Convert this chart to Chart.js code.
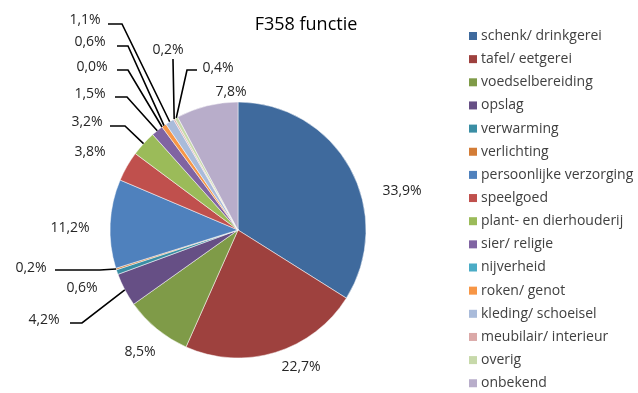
<!DOCTYPE html>
<html lang="nl">
<head>
    <meta charset="UTF-8">
    <title>F358 functie</title>
    <script src="https://cdn.jsdelivr.net/npm/chart.js"></script>
    <style>
        html, body { margin: 0; padding: 0; background: #fff; }
        #wrap { width: 638px; height: 393px; }
    </style>
</head>
<body>
<div id="wrap"><canvas id="pieChart"></canvas></div>

<script>
    // Data
    const title = 'F358 functie';
    const categories = [
        'schenk/ drinkgerei', 'tafel/ eetgerei', 'voedselbereiding', 'opslag',
        'verwarming', 'verlichting', 'persoonlijke verzorging', 'speelgoed',
        'plant- en dierhouderij', 'sier/ religie', 'nijverheid', 'roken/ genot',
        'kleding/ schoeisel', 'meubilair/ interieur', 'overig', 'onbekend'
    ];
    const percentages = [33.9, 22.7, 8.5, 4.2, 0.6, 0.2, 11.2, 3.8, 3.2, 1.5, 0.0, 0.6, 1.1, 0.2, 0.4, 7.8];
    const sliceColors = [
        '#3F6A9D', '#9E413E', '#7F9B48', '#664F85', '#3A8EA4', '#D37C36',
        '#4F81BD', '#C0504D', '#9BBB59', '#8064A2', '#4BACC6', '#F79646',
        '#A9BBDA', '#DBA9A8', '#C7D9AA', '#B8ADCA'
    ];

    // Where Excel put each data label (text centre), and the elbow of its leader line if any
    const labelLayout = [
        { x: 402, y: 191 },
        { x: 301, y: 367 },
        { x: 140, y: 352 },
        { x: 44,  y: 320, line: [[70, 323], [82, 323]] },
        { x: 82,  y: 288 },
        { x: 31,  y: 268, line: [[55, 270], [100, 270]] },
        { x: 70,  y: 228 },
        { x: 90,  y: 152 },
        { x: 87,  y: 122, line: [[110, 126], [125, 126]] },
        { x: 90,  y: 94,  line: [[115, 97], [127, 97]] },
        { x: 92,  y: 67,  line: [[117, 70], [128, 70]] },
        { x: 90,  y: 42,  line: [[117, 46], [128, 46]] },
        { x: 85,  y: 20,  line: [[108, 24], [122, 24]] },
        { x: 168, y: 50,  line: [[173, 59], [173, 60]] },
        { x: 218, y: 68,  line: [[197, 70], [187, 70]] },
        { x: 231, y: 92 }
    ];

    const FONT = '"Open Sans", "Noto Sans", sans-serif';

    function fmt(v) {
        return v.toFixed(1).replace('.', ',') + '%';
    }

    const decorPlugin = {
        id: 'decor',
        afterDraw(chart) {
            const ctx = chart.ctx;
            const arcs = chart.getDatasetMeta(0).data;
            ctx.save();

            // leader lines
            ctx.strokeStyle = '#000';
            ctx.lineWidth = 1.6;
            labelLayout.forEach((lab, i) => {
                if (!lab.line) return;
                const arc = arcs[i];
                const mid = (arc.startAngle + arc.endAngle) / 2;
                const ex = arc.x + Math.cos(mid) * arc.outerRadius;
                const ey = arc.y + Math.sin(mid) * arc.outerRadius;
                ctx.beginPath();
                ctx.moveTo(lab.line[0][0], lab.line[0][1]);
                ctx.lineTo(lab.line[1][0], lab.line[1][1]);
                ctx.lineTo(ex, ey);
                ctx.stroke();
            });

            // data labels
            ctx.fillStyle = '#262626';
            ctx.font = '14px ' + FONT;
            ctx.textAlign = 'center';
            ctx.textBaseline = 'middle';
            labelLayout.forEach((lab, i) => {
                ctx.fillText(fmt(percentages[i]), lab.x, lab.y);
            });

            // title
            ctx.fillStyle = '#000';
            ctx.font = '18px ' + FONT;
            ctx.fillText(title, 306, 25);

            // legend
            ctx.font = '14px ' + FONT;
            ctx.textAlign = 'left';
            categories.forEach((name, i) => {
                const y = 36 + i * 23.15;
                ctx.fillStyle = sliceColors[i];
                ctx.fillRect(469, y - 4, 8, 8);
                ctx.fillStyle = '#404040';
                ctx.fillText(name, 481, y);
            });

            ctx.restore();
        }
    };

    new Chart(document.getElementById('pieChart'), {
        type: 'pie',
        data: {
            labels: categories,
            datasets: [{
                data: percentages,
                backgroundColor: sliceColors,
                borderColor: '#ffffff',
                borderWidth: 0.5,
                radius: 128
            }]
        },
        options: {
            responsive: true,
            maintainAspectRatio: false,
            animation: false,
            layout: { padding: { left: 0, right: 162, top: 67, bottom: 0 } },
            plugins: {
                legend: { display: false },
                title: { display: false },
                tooltip: { enabled: false }
            }
        },
        plugins: [decorPlugin]
    });
</script>
</body>
</html>
